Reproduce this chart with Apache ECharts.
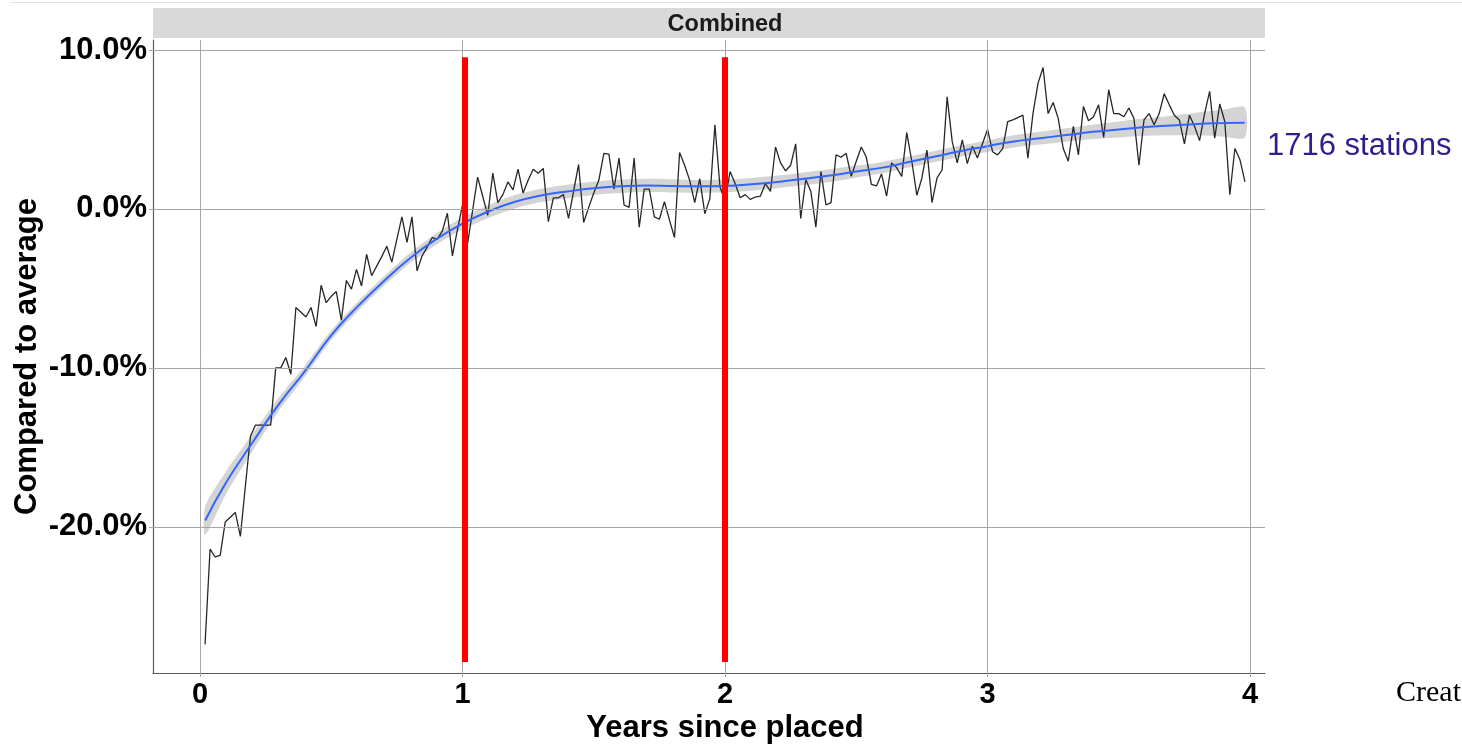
<!DOCTYPE html>
<html>
<head>
<meta charset="utf-8">
<script src="https://cdn.jsdelivr.net/npm/echarts@6/dist/echarts.min.js"></script>
<style>
html,body{margin:0;padding:0;background:#fff;}
#chart{width:1462px;height:744px;}
</style>
</head>
<body>
<div id="chart"></div>
<script>
// ---- data ----
// weekly observations (week index i -> (i+1)/52 years), % compared to average
const weeklyValues = [
 -27.4,-21.4,-21.9,-21.8,-19.7,-19.4,-19.1,-20.6,-17.4,-14.3,
 -13.6,-13.6,-13.6,-13.6,-10.0,-10.0,-9.35,-10.4,-6.2,-6.5,
 -6.8,-6.2,-7.4,-4.8,-5.9,-5.5,-5.2,-7.0,-4.5,-5.05,
 -3.8,-4.85,-2.85,-4.2,-3.6,-3.0,-2.35,-3.35,-1.9,-0.5,
 -2.1,-0.5,-3.9,-2.95,-2.4,-1.8,-1.9,-1.4,-0.27,-2.95,
 -1.3,0.25,-2.2,-0.1,2.0,0.8,-0.4,2.25,0.4,0.9,
 1.7,1.2,2.5,1.0,1.8,2.5,2.25,2.55,-0.8,0.7,
 0.7,0.9,-0.6,1.1,2.8,-0.85,0.1,1.0,1.8,3.5,
 3.45,1.25,3.2,0.25,0.1,3.2,-1.15,1.25,1.25,-0.5,
 -0.65,0.45,-0.7,-1.8,3.55,2.75,1.8,0.4,1.9,-0.3,
 0.65,5.3,1.4,0.5,2.35,1.6,0.7,0.9,0.6,0.75,
 0.8,1.6,1.1,3.9,2.9,2.4,2.75,4.1,-0.6,1.85,
 1.1,-1.15,2.35,0.25,0.4,3.4,3.25,3.5,2.05,3.0,
 3.9,3.25,1.55,1.45,2.2,0.8,2.9,2.6,2.05,4.8,
 3.0,0.85,1.95,3.7,0.4,1.95,2.45,7.05,4.25,2.9,
 4.35,2.85,3.95,3.2,4.1,5.0,3.6,3.4,3.8,5.5,
 5.6,5.75,5.9,3.2,6.0,7.9,8.9,6.0,6.7,5.7,
 3.8,3.0,5.2,3.4,6.45,5.55,5.8,6.55,4.5,7.5,
 6.0,6.0,5.8,6.35,5.7,2.75,5.6,6.0,5.3,6.0,
 7.25,6.55,5.9,5.6,4.1,5.9,5.2,4.3,6.0,7.4,
 4.45,6.6,5.5,0.9,3.8,3.1,1.7
];
// smoothed trend (years, %) and half-width of its confidence band (%)
const smoothX = [0.02,0.1,0.2,0.3,0.4,0.5,0.6,0.7,0.8,0.9,1.0,1.1,1.2,1.3,1.4,1.5,1.6,1.7,1.8,1.9,2.0,
                 2.1,2.2,2.3,2.4,2.5,2.6,2.7,2.8,2.9,3.0,3.1,3.2,3.3,3.4,3.5,3.6,3.7,3.8,3.9,3.98];
const smoothY = [-19.6,-17.2,-14.7,-12.3,-10.2,-7.95,-6.15,-4.55,-3.1,-1.9,-0.92,-0.15,0.45,0.85,1.1,1.3,1.42,1.48,1.45,1.42,1.45,
                 1.55,1.7,1.9,2.1,2.35,2.6,2.95,3.3,3.65,3.95,4.25,4.45,4.65,4.85,5.0,5.15,5.25,5.35,5.4,5.43];
const bandHalf = [0.9,0.7,0.55,0.42,0.35,0.3,0.3,0.3,0.32,0.35,0.38,0.4,0.42,0.42,0.42,0.42,0.42,0.42,0.42,0.4,0.4,
                  0.4,0.4,0.4,0.4,0.38,0.36,0.35,0.35,0.35,0.36,0.38,0.4,0.42,0.45,0.5,0.55,0.62,0.72,0.85,0.95];
const xTicks = [0,1,2,3,4];
const yTicks = [-20,-10,0,10];
const redLines = [ {x:1.01, from:-28.5, to:9.55}, {x:2.0, from:-28.5, to:9.55} ];
const panelTitle = 'Combined';
const sideLabel = '1716 stations';
const xTitle = 'Years since placed';
const yTitle = 'Compared to average';

// ---- build ----
const weeklyData = weeklyValues.map((v,i)=>[(i+1)/52, v]);
const smoothData = smoothX.map((x,i)=>[x, smoothY[i]]);

const GRID = {left:153, top:40, width:1112, height:633};
const gridColor = '#a6a6a6';
const fontFam = '"Liberation Sans", Arial, Helvetica, sans-serif';

function renderBand(params, api){
  if (params.dataIndex !== 0) return null;
  const upper = smoothX.map((x,i)=>api.coord([x, smoothY[i]+bandHalf[i]]));
  const lower = smoothX.map((x,i)=>api.coord([x, smoothY[i]-bandHalf[i]])).reverse();
  return {type:'polygon', shape:{points:upper.concat(lower), smooth:0.25},
          style:{fill:'#d4d4d4', stroke:null}, silent:true};
}

const chart = echarts.init(document.getElementById('chart'), null, {renderer:'canvas'});
chart.setOption({
  animation:false,
  backgroundColor:'#ffffff',
  grid:{left:GRID.left, top:GRID.top, width:GRID.width, height:GRID.height, containLabel:false, outerBoundsMode:'none'},
  xAxis:{
    type:'value', min:-0.179, max:4.057,
    splitLine:{show:false},
    axisLine:{show:true, onZero:false, lineStyle:{color:'#5a5a5a', width:1.2}},
    axisTick:{show:true, customValues:xTicks, length:4, lineStyle:{color:gridColor}},
    axisLabel:{customValues:xTicks, fontSize:29, fontWeight:'bold', color:'#000', fontFamily:fontFam, margin:7,
               formatter:v=>String(v)},
    name:xTitle, nameLocation:'middle', nameGap:40, nameMoveOverlap:false,
    nameTextStyle:{fontSize:31, fontWeight:'bold', color:'#000', fontFamily:fontFam, padding:[0,0,0,32]}
  },
  yAxis:{
    type:'value', min:-29.2, max:10.63,
    splitLine:{show:false},
    axisLine:{show:true, onZero:false, lineStyle:{color:'#5a5a5a', width:1.2}},
    axisTick:{show:true, customValues:yTicks, length:4, lineStyle:{color:gridColor}},
    axisLabel:{customValues:yTicks, fontSize:31, fontWeight:'bold', color:'#000', fontFamily:fontFam, margin:6,
               formatter:v=>v.toFixed(1)+'%'},
    name:yTitle, nameLocation:'middle', nameGap:110, nameRotate:90, nameMoveOverlap:false,
    nameTextStyle:{fontSize:31, fontWeight:'bold', color:'#000', fontFamily:fontFam}
  },
  series:[
    { // confidence band + grid lines
      type:'custom', data:[[smoothX[0], smoothY[0]]], renderItem:renderBand, clip:false, z:1, silent:true,
      markLine:{silent:true, symbol:'none', animation:false, label:{show:false},
        lineStyle:{color:gridColor, width:1, type:'solid'},
        data:[...xTicks.map(v=>({xAxis:v})), ...yTicks.map(v=>({yAxis:v}))]}
    },
    { // weekly values
      type:'line', data:weeklyData, symbol:'none', z:3,
      lineStyle:{color:'#262626', width:1.3}
    },
    { // smooth trend
      type:'line', data:smoothData, smooth:true, symbol:'none', z:4,
      lineStyle:{color:'#3366ff', width:2},
      markLine:{silent:true, symbol:'none', animation:false, label:{show:false},
        lineStyle:{color:'#ff0000', width:6, type:'solid'},
        data:redLines.map(r=>[{coord:[r.x, r.to]}, {coord:[r.x, r.from]}])}
    }
  ],
  graphic:[
    {type:'line', silent:true, shape:{x1:10, y1:2.5, x2:1462, y2:2.5}, style:{stroke:'#e3e3e3', lineWidth:1}},
    {type:'rect', silent:true, shape:{x:GRID.left, y:8, width:GRID.width, height:30}, style:{fill:'#d9d9d9'}},
    {type:'text', silent:true, x:725, y:25,
      style:{text:panelTitle, fontSize:23.5, fontWeight:'bold', fill:'#1a1a1a', fontFamily:fontFam, align:'center', verticalAlign:'middle'}},
    {type:'text', silent:true, x:1267, y:146,
      style:{text:sideLabel, fontSize:31, fill:'#2c1f8c', fontFamily:fontFam, align:'left', verticalAlign:'middle'}},
    {type:'text', silent:true, x:1396, y:693,
      style:{text:'Creat', fontSize:30, fill:'#000', fontFamily:'"Liberation Serif", "DejaVu Serif", serif', align:'left', verticalAlign:'middle'}}
  ]
});
</script>
</body>
</html>
